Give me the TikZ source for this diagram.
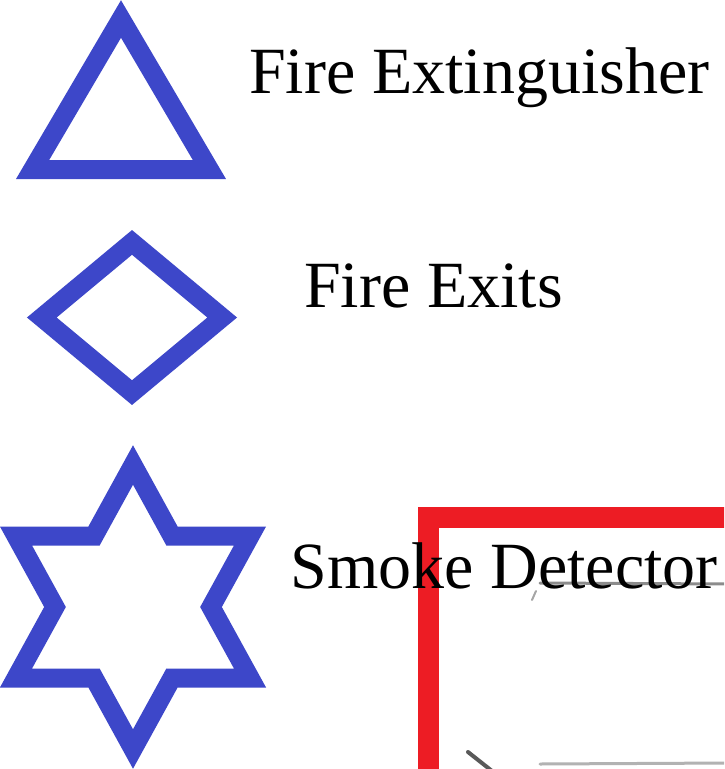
\documentclass[tikz,border=0pt]{standalone}
\usepackage{fontspec}
\setmainfont{Liberation Serif}
\definecolor{symblue}{RGB}{61,71,201}
\definecolor{planred}{RGB}{237,28,36}
\tikzset{
  symbol/.style={draw=symblue, line width=19pt, line join=miter},
  planwall/.style={draw=planred, line width=21pt, line join=miter},
  label/.style={anchor=base west, inner sep=0pt, font=\fontsize{66}{79}\selectfont, text=black},
  sketch/.style={draw=black!55, line width=3pt, line cap=round},
}
\begin{document}
\begin{tikzpicture}[x=1pt,y=-1pt]
\useasboundingbox (0,0) rectangle (724,769);
\fill[white] (0,0) rectangle (724,769);
\clip (0,0) rectangle (724,769);
% red plan outline (cut off by the picture edge)
\draw[planwall] (428.5,800) -- (428.5,517.5) -- (760,517.5);
% faint sketch lines inside the plan
\draw[sketch, draw=black!45] (540,583) -- (730,584);
\draw[sketch, draw=black!35, line width=2pt] (536,591) -- (532,600);
\draw[sketch, draw=black!65, line width=4pt] (468,752) -- (492,771);
\draw[sketch, draw=black!30] (540,764) -- (730,763);
% legend symbols
\draw[symbol] (121,19) -- (209.4,169.5) -- (32.6,169.5) -- cycle;
\draw[symbol] (132,242.4) -- (222.2,317.5) -- (132,392.6) -- (41.8,317.5) -- cycle;
\draw[symbol] (133,465) -- (172,536) -- (250,536) -- (211,607) -- (250,678)
  -- (172,678) -- (133,749) -- (94,678) -- (16,678) -- (55,607) -- (16,536)
  -- (94,536) -- cycle;
% labels
\node[label] (ext) at (249,93) {Fire Extinguisher};
\node[label] (exits) at (304,307) {Fire Exits};
\node[label] (smoke) at (290.5,588) {Smoke Detector};
\end{tikzpicture}
\end{document}
